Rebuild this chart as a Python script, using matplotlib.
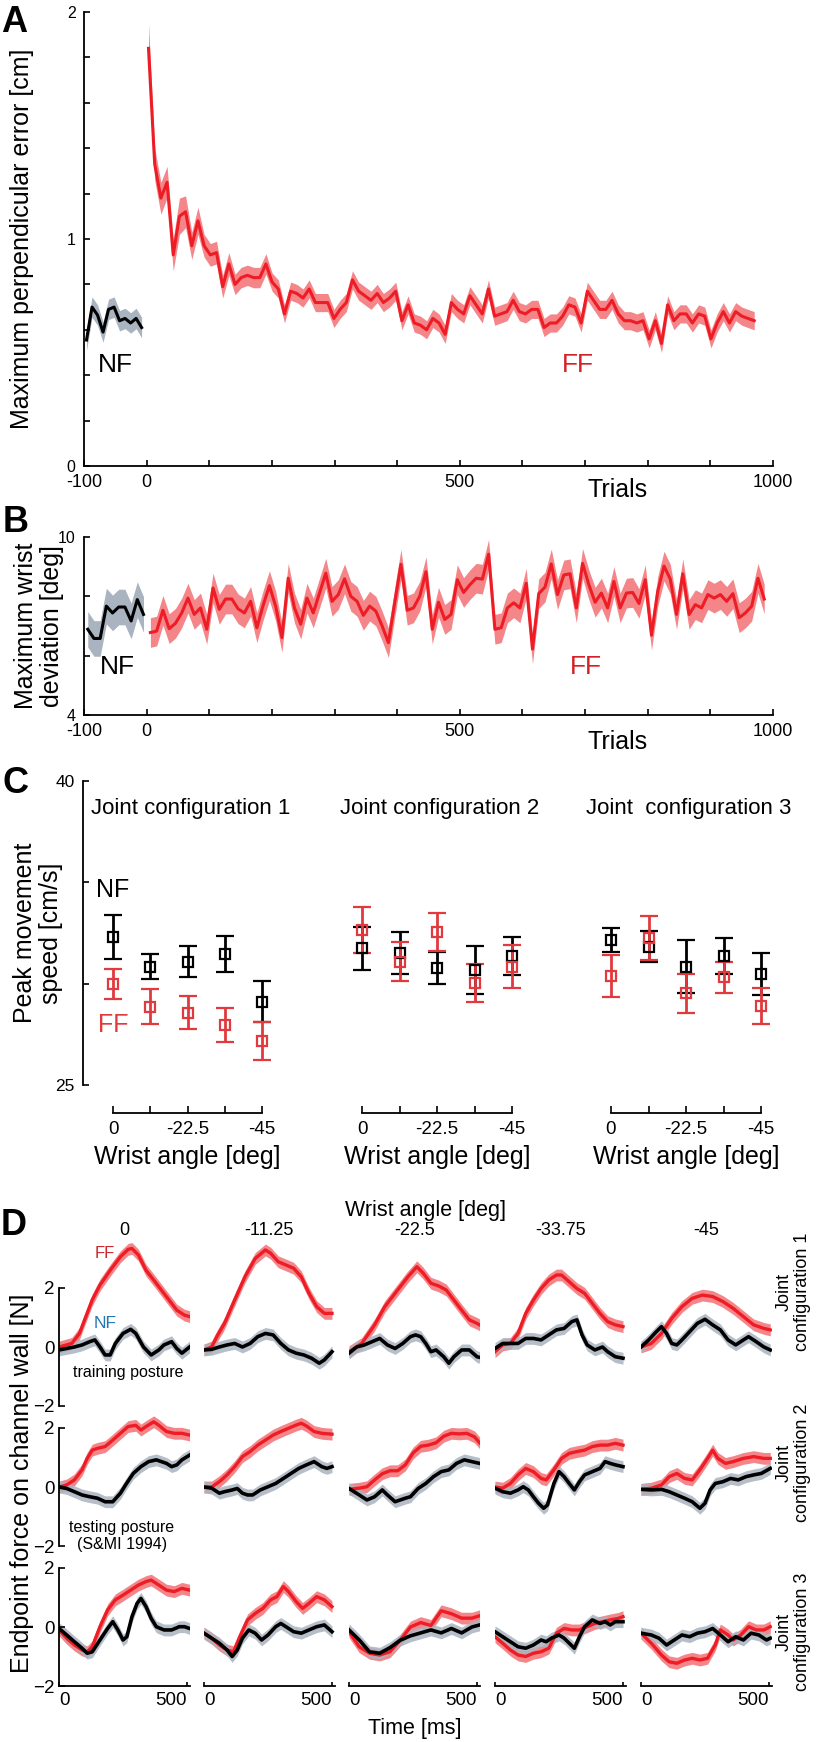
import numpy as np
import matplotlib
matplotlib.use('Agg')
import matplotlib.pyplot as plt

plt.rcParams['font.family'] = ['Liberation Sans', 'DejaVu Sans']

# ---------------- data ----------------
# A: maximum perpendicular error [cm], means of 10-trial bins
nf_perp = [0.555, 0.70, 0.665, 0.59, 0.69, 0.70, 0.64, 0.65, 0.63, 0.65, 0.61]
ff_perp = [1.84, 1.33, 1.18, 1.25, 0.93, 1.10, 1.12, 0.97, 1.08, 0.97, 0.93, 0.94, 0.79,
           0.89, 0.80, 0.83, 0.84, 0.83, 0.83, 0.89, 0.81, 0.78, 0.67, 0.77, 0.76, 0.74,
           0.78, 0.72, 0.72, 0.72, 0.65, 0.69, 0.72, 0.82, 0.77, 0.75, 0.73, 0.76, 0.72,
           0.74, 0.77,
           0.64, 0.71, 0.63, 0.62, 0.60, 0.65, 0.63, 0.58, 0.72, 0.69, 0.67, 0.75, 0.71,
           0.67, 0.78, 0.66, 0.67, 0.68, 0.73, 0.68, 0.67, 0.69, 0.69, 0.61, 0.63, 0.63,
           0.66, 0.71, 0.70, 0.63, 0.77, 0.73, 0.69, 0.69, 0.73, 0.67, 0.64, 0.64, 0.63,
           0.64, 0.56, 0.64, 0.54, 0.71, 0.64, 0.67, 0.67, 0.63, 0.67, 0.66, 0.56, 0.63,
           0.68, 0.63, 0.68, 0.66, 0.65, 0.64]
ff_perp_sem = [0.11, 0.07, 0.07, 0.07, 0.07, 0.08, 0.07, 0.06, 0.06, 0.05, 0.05, 0.05,
               0.05, 0.05, 0.045, 0.045, 0.045, 0.045, 0.045, 0.045] + [0.04] * 79
nf_perp_sem = 0.045

# B: maximum wrist deviation [deg]
nf_wrist = [6.89, 6.58, 6.58, 7.67, 7.44, 7.64, 7.64, 7.17, 7.89, 7.39]
ff_wrist = [6.78, 6.83, 7.53, 6.91, 7.09, 7.44, 7.94, 7.39, 7.61, 6.89, 8.28, 7.56, 7.91,
            7.91, 7.58, 7.44, 7.83, 6.94, 7.70, 8.36, 7.67, 6.61, 8.61, 7.61, 7.06, 7.94,
            7.44, 8.11, 8.78, 7.83, 8.06, 8.59, 8.00, 7.83, 7.36, 7.67, 7.50, 7.00, 6.44,
            7.78, 9.08, 7.53, 7.61, 8.00, 8.83, 6.89, 7.80, 7.22, 7.39, 8.56, 8.13, 8.39,
            8.61, 8.58, 9.42, 6.89, 6.94, 7.61, 7.78, 7.61, 8.44, 6.22, 8.09, 8.31, 9.09,
            8.06, 8.72, 8.76, 7.61, 9.11, 8.39, 7.80, 8.11, 7.61, 8.50, 7.61, 8.11, 8.13,
            7.76, 8.56, 6.69, 8.17, 9.02, 8.58, 7.39, 8.76, 7.39, 7.72, 7.61, 8.06, 7.94,
            8.06, 7.83, 8.09, 7.28, 7.44, 7.67, 8.61, 7.91]
nf_wrist_sem = 0.6
ff_wrist_sem = 0.5

# C: peak movement speed [cm/s], per joint configuration and wrist angle
wrist_angles = [0, -11.25, -22.5, -33.75, -45]
speed_nf = [[32.32, 30.84, 31.09, 31.46, 29.11],
            [31.74, 31.50, 30.76, 30.67, 31.36],
            [32.15, 31.83, 30.84, 31.36, 30.48]]
speed_nf_err = [[1.09, 0.60, 0.78, 0.90, 1.00],
                [1.07, 1.04, 0.78, 1.18, 0.95],
                [0.60, 0.76, 1.30, 0.90, 1.04]]
speed_ff = [[29.97, 28.87, 28.57, 27.96, 27.17],
            [32.65, 31.09, 32.53, 30.02, 30.84],
            [30.38, 32.24, 29.52, 30.31, 28.90]]
speed_ff_err = [[0.75, 0.88, 0.82, 0.82, 0.92],
                [1.13, 0.95, 0.94, 0.94, 1.07],
                [1.05, 1.09, 0.95, 0.78, 0.88]]
config_titles = ['Joint configuration 1', 'Joint configuration 2', 'Joint  configuration 3']

# D: endpoint force on channel wall [N], (time ms, force) per wrist angle
col_titles = ['0', '-11.25', '-22.5', '-33.75', '-45']
ff_cfg1 = [
    [(0, 0), (50, 0.12), (80, 0.46), (100, 0.92), (130, 1.6), (160, 2.1), (200, 2.6), (240, 3.06),
     (270, 3.31), (285, 3.34), (310, 3.12), (340, 2.6), (370, 2.27), (400, 1.93), (430, 1.59),
     (460, 1.25), (490, 1.08), (510, 1.03)],
    [(0, -0.1), (30, 0), (50, 0.35), (80, 0.8), (120, 1.6), (160, 2.38), (200, 3.0), (240, 3.29),
     (260, 3.18), (290, 2.89), (320, 2.78), (350, 2.67), (380, 2.38), (410, 1.82), (440, 1.37),
     (470, 1.14), (500, 1.14)],
    [(0, -0.16), (50, 0.12), (100, 0.75), (140, 1.37), (180, 1.82), (230, 2.38), (265, 2.72),
     (290, 2.5), (320, 2.16), (350, 2.07), (380, 1.93), (410, 1.59), (440, 1.25), (470, 0.92),
     (500, 0.8), (510, 0.75)],
    [(0, -0.16), (30, 0.07), (60, 0.12), (90, 0.46), (120, 1.14), (150, 1.59), (180, 1.98),
     (210, 2.27), (240, 2.44), (260, 2.44), (290, 2.21), (320, 1.98), (350, 1.82), (380, 1.48),
     (410, 1.14), (440, 0.86), (470, 0.75), (500, 0.69)],
    [(0, 0), (40, 0.12), (80, 0.46), (120, 0.97), (160, 1.37), (200, 1.65), (240, 1.76),
     (280, 1.71), (320, 1.54), (360, 1.31), (400, 1.03), (440, 0.75), (480, 0.63), (505, 0.58)]]
nf_cfg1 = [
    [(0, -0.1), (30, -0.05), (60, 0), (90, 0.07), (120, 0.18), (140, 0.24), (160, 0), (180, -0.27),
     (200, -0.27), (220, 0.12), (250, 0.46), (280, 0.6), (300, 0.46), (330, 0), (360, -0.27),
     (390, -0.1), (410, 0.07), (440, 0.18), (460, -0.05), (480, -0.21), (510, 0)],
    [(0, -0.1), (30, -0.08), (60, 0), (90, 0.07), (120, 0.12), (150, 0), (180, 0.12), (210, 0.35),
     (240, 0.46), (270, 0.41), (300, 0.12), (330, -0.1), (360, -0.21), (390, -0.27), (420, -0.38),
     (450, -0.55), (470, -0.44), (500, -0.16)],
    [(0, -0.21), (30, 0), (60, 0.07), (90, 0.18), (120, 0.29), (150, 0.07), (180, -0.05),
     (210, 0.12), (240, 0.35), (260, 0.41), (280, 0.35), (300, 0.12), (320, -0.16), (340, -0.1),
     (370, -0.33), (390, -0.55), (410, -0.33), (440, -0.1), (470, -0.1), (500, -0.33), (510, -0.35)],
    [(0, -0.05), (30, 0.12), (60, 0.12), (90, 0.12), (120, 0.29), (150, 0.29), (180, 0.24),
     (210, 0.41), (240, 0.58), (270, 0.63), (300, 0.86), (320, 0.92), (340, 0.41), (360, 0.07),
     (390, -0.1), (420, 0), (440, -0.16), (470, -0.33), (500, -0.38)],
    [(0, 0), (30, 0.24), (60, 0.52), (80, 0.69), (100, 0.46), (120, 0.12), (140, 0.07), (160, 0.24),
     (190, 0.52), (220, 0.8), (250, 0.94), (280, 0.75), (310, 0.58), (340, 0.24), (370, 0.07),
     (400, 0.24), (420, 0.35), (450, 0.18), (480, 0), (505, -0.1)]]
ff_cfg2 = [
    [(0, 0), (30, 0.07), (60, 0.24), (90, 0.58), (110, 0.97), (130, 1.25), (150, 1.31), (180, 1.37),
     (210, 1.59), (240, 1.82), (270, 2.05), (300, 2.09), (320, 1.93), (340, 2.05), (370, 2.21),
     (390, 2.09), (420, 1.88), (450, 1.82), (480, 1.82), (510, 1.76)],
    [(0, 0), (30, 0), (60, 0.18), (90, 0.41), (120, 0.69), (150, 1.03), (180, 1.2), (210, 1.42),
     (240, 1.59), (270, 1.76), (300, 1.88), (330, 1.99), (360, 2.1), (380, 2.16), (400, 2.07),
     (430, 1.88), (460, 1.82), (500, 1.79)],
    [(0, -0.08), (40, -0.04), (70, 0.01), (100, 0.24), (130, 0.45), (160, 0.55), (190, 0.55),
     (220, 0.75), (250, 1.15), (280, 1.38), (310, 1.42), (340, 1.5), (370, 1.72), (400, 1.82),
     (430, 1.8), (460, 1.82), (490, 1.7), (510, 1.5)],
    [(0, 0), (30, -0.04), (60, 0.12), (90, 0.41), (120, 0.63), (150, 0.52), (180, 0.29), (200, 0.24),
     (230, 0.58), (260, 0.97), (290, 1.14), (320, 1.2), (350, 1.25), (380, 1.37), (410, 1.42),
     (440, 1.42), (470, 1.48), (500, 1.42)],
    [(0, -0.08), (40, -0.04), (80, 0.07), (110, 0.35), (140, 0.46), (170, 0.29), (200, 0.24),
     (230, 0.58), (260, 0.97), (280, 1.25), (300, 0.97), (330, 0.8), (360, 0.86), (400, 0.97),
     (440, 1.03), (480, 0.97), (505, 0.97)]]
nf_cfg2 = [
    [(0, 0), (30, -0.05), (60, -0.16), (90, -0.27), (120, -0.33), (150, -0.38), (180, -0.5),
     (210, -0.5), (240, -0.21), (260, 0.07), (290, 0.46), (320, 0.69), (350, 0.86), (380, 0.92),
     (400, 0.86), (420, 0.8), (440, 0.69), (460, 0.75), (480, 0.92), (510, 1.08)],
    [(0, 0), (30, -0.04), (60, -0.21), (80, -0.16), (110, -0.1), (130, -0.05), (150, -0.21),
     (170, -0.27), (190, -0.27), (220, -0.1), (250, 0.01), (280, 0.12), (310, 0.29), (340, 0.46),
     (370, 0.63), (400, 0.75), (430, 0.86), (460, 0.69), (480, 0.63), (500, 0.69)],
    [(0, -0.05), (40, -0.27), (70, -0.44), (100, -0.33), (130, -0.1), (150, -0.27), (180, -0.5),
     (200, -0.44), (220, -0.38), (240, -0.33), (270, -0.05), (300, 0.12), (330, 0.35), (360, 0.52),
     (390, 0.58), (420, 0.8), (450, 0.92), (480, 0.86), (510, 0.8)],
    [(0, -0.04), (30, -0.16), (60, -0.21), (90, -0.1), (110, 0.01), (130, -0.1), (150, -0.33),
     (170, -0.55), (190, -0.72), (205, -0.61), (230, 0.12), (250, 0.52), (270, 0.35), (290, 0.12),
     (310, -0.1), (330, 0.18), (350, 0.41), (380, 0.52), (410, 0.63), (430, 0.86), (450, 0.8),
     (470, 0.75), (500, 0.69)],
    [(0, -0.08), (40, -0.1), (80, -0.08), (110, -0.16), (140, -0.27), (170, -0.38), (200, -0.5),
     (230, -0.72), (250, -0.55), (270, -0.1), (290, 0.12), (320, 0.18), (350, 0.29), (380, 0.24),
     (410, 0.35), (440, 0.41), (470, 0.46), (505, 0.63)]]
ff_cfg3 = [
    [(0, -0.1), (30, -0.38), (60, -0.61), (90, -0.78), (110, -0.84), (130, -0.67), (160, 0.01),
     (190, 0.58), (220, 0.92), (250, 1.08), (280, 1.25), (310, 1.42), (340, 1.54), (360, 1.59),
     (390, 1.42), (420, 1.25), (450, 1.2), (480, 1.31), (510, 1.25)],
    [(0, -0.21), (30, -0.38), (60, -0.61), (90, -0.78), (115, -0.84), (140, -0.33), (170, 0.24),
     (200, 0.46), (230, 0.63), (260, 0.92), (285, 1.03), (310, 1.37), (330, 1.2), (360, 0.86),
     (385, 0.63), (410, 0.8), (440, 1.03), (470, 0.92), (500, 0.69)],
    [(0, -0.16), (40, -0.67), (80, -0.89), (120, -0.95), (160, -0.84), (200, -0.45), (240, 0.0),
     (280, 0.15), (320, 0.05), (360, 0.55), (400, 0.45), (440, 0.3), (480, 0.3), (510, 0.38)],
    [(0, -0.33), (30, -0.55), (60, -0.78), (90, -0.95), (120, -1.0), (150, -0.89), (180, -0.84),
     (210, -0.72), (240, -0.21), (270, -0.05), (300, -0.1), (330, -0.1), (360, 0.01), (390, 0.12),
     (420, 0.18), (450, 0.24), (480, 0.29), (500, 0.35)],
    [(0, -0.21), (40, -0.55), (80, -0.95), (110, -1.18), (140, -1.23), (170, -1.12), (200, -1.06),
     (230, -1.12), (260, -1.06), (290, -0.61), (310, -0.1), (340, -0.27), (360, -0.44), (390, -0.27),
     (420, 0.01), (450, -0.1), (480, -0.1), (505, 0.01)]]
nf_cfg3 = [
    [(0, -0.05), (30, -0.27), (60, -0.5), (90, -0.72), (110, -0.89), (130, -0.84), (160, -0.44),
     (190, -0.05), (210, 0.18), (230, -0.1), (250, -0.44), (265, -0.33), (285, 0.35), (305, 0.8),
     (320, 0.97), (340, 0.69), (360, 0.29), (380, 0.01), (410, -0.1), (440, -0.1), (470, 0.01),
     (490, 0.01), (510, -0.05)],
    [(0, -0.21), (30, -0.38), (60, -0.55), (90, -0.78), (110, -1.0), (130, -0.78), (150, -0.38),
     (175, -0.1), (200, -0.21), (225, -0.44), (250, -0.27), (280, 0.01), (300, 0.12), (320, 0.01),
     (350, -0.16), (380, -0.21), (410, -0.1), (440, 0.01), (470, 0.07), (500, -0.16)],
    [(0, -0.1), (40, -0.44), (80, -0.84), (120, -0.89), (160, -0.7), (200, -0.45), (240, -0.3),
     (280, -0.2), (320, -0.1), (360, -0.2), (400, -0.05), (440, -0.2), (480, 0.0), (510, 0.07)],
    [(0, -0.16), (30, -0.33), (60, -0.5), (90, -0.67), (120, -0.72), (150, -0.61), (180, -0.44),
     (200, -0.5), (220, -0.38), (250, -0.27), (270, -0.38), (290, -0.55), (310, -0.72), (330, -0.33),
     (350, 0.01), (380, 0.24), (410, 0.12), (430, 0.18), (450, 0.07), (470, 0.18), (500, 0.18)],
    [(0, -0.21), (40, -0.27), (70, -0.38), (100, -0.61), (130, -0.44), (160, -0.27), (190, -0.33),
     (220, -0.21), (250, -0.16), (280, -0.05), (310, -0.27), (340, -0.5), (370, -0.33), (400, -0.44),
     (430, -0.21), (460, -0.27), (490, -0.44), (505, -0.38)]]
force_band = 0.2

# ---------------- style ----------------
W, H = 819, 1742
RED = '#ee1c24'
RED_BAND = '#f4868a'
RED_C = '#e0393e'
GREY_BAND = '#a9b4c0'
LABEL = 18

fig = plt.figure(figsize=(W / 100, H / 100), dpi=100, facecolor='white')


def box(x0, y0, x1, y1):
    # pixel rectangle (top-left origin) -> figure fraction
    return [x0 / W, 1 - y1 / H, (x1 - x0) / W, (y1 - y0) / H]


def label(x, y, s, **kw):
    kw.setdefault('ha', 'center')
    kw.setdefault('va', 'center')
    fig.text(x / W, 1 - y / H, s, **kw)


def clean(ax):
    ax.set_facecolor('none')
    for s in ['top', 'right']:
        ax.spines[s].set_visible(False)
    for s in ['left', 'bottom']:
        ax.spines[s].set_linewidth(1.3)
    ax.tick_params(direction='in', length=4.5, width=1.2, labelsize=13, pad=6)


def band_line(ax, x, y, sem, line_c, band_c, lw=2.2):
    y = np.asarray(y)
    ax.fill_between(x, y - sem, y + sem, color=band_c, lw=0)
    ax.plot(x, y, color=line_c, lw=lw)


trial_ticks = np.arange(-100, 1001, 100)
trial_labels = ['-100', '0', '', '', '', '', '500', '', '', '', '', '1000']

# ---------------- A ----------------
axA = fig.add_axes(box(84, 12, 773, 466))
clean(axA)
band_line(axA, np.linspace(-96, -8, len(nf_perp)), nf_perp, nf_perp_sem, 'black', GREY_BAND)
band_line(axA, np.linspace(3, 970, len(ff_perp)), ff_perp, np.array(ff_perp_sem), RED, RED_BAND)
axA.set_xlim(-100, 1000)
axA.set_ylim(0, 2)
axA.set_xticks(trial_ticks)
axA.set_xticklabels(trial_labels)
axA.set_yticks(np.arange(0, 2.01, 0.2))
axA.set_yticklabels(['0', '', '', '', '', '1', '', '', '', '', '2'], fontsize=11.5)
label(22, 239, 'Maximum perpendicular error [cm]', rotation=90, fontsize=LABEL)
label(618, 490, 'Trials', fontsize=LABEL)
label(115, 365, 'NF', fontsize=19)
label(578, 365, 'FF', fontsize=19, color='#d42027')

# ---------------- B ----------------
axB = fig.add_axes(box(84, 537, 773, 715))
clean(axB)
band_line(axB, np.linspace(-94, -5, len(nf_wrist)), nf_wrist, nf_wrist_sem, 'black', GREY_BAND)
band_line(axB, np.linspace(6, 986, len(ff_wrist)), ff_wrist, ff_wrist_sem, RED, RED_BAND)
axB.set_xlim(-100, 1000)
axB.set_ylim(4, 10)
axB.set_xticks(trial_ticks)
axB.set_xticklabels(trial_labels)
axB.set_yticks([4, 6, 8, 10])
axB.set_yticklabels(['4', '', '', '10'], fontsize=11.5)
label(39, 626, 'Maximum wrist\ndeviation [deg]', rotation=90, fontsize=LABEL, linespacing=1.15)
label(618, 742, 'Trials', fontsize=LABEL)
label(117, 667, 'NF', fontsize=19)
label(586, 667, 'FF', fontsize=19, color='#d42027')

# ---------------- C ----------------
group_x = [(113, 262), (362, 512), (611, 761)]
for g, (x0, x1) in enumerate(group_x):
    ax = fig.add_axes(box(x0, 781, x1, 1085))
    clean(ax)
    ax.errorbar(wrist_angles, speed_nf[g], yerr=speed_nf_err[g], fmt='s', color='black',
                mfc='none', ms=6.5, mew=1.6, elinewidth=2, capsize=6.5, capthick=2, clip_on=False)
    ax.errorbar(wrist_angles, speed_ff[g], yerr=speed_ff_err[g], fmt='s', color=RED_C,
                mfc='none', ms=6.5, mew=1.6, elinewidth=2, capsize=6.5, capthick=2, clip_on=False)
    ax.set_xlim(0, -45)
    ax.set_ylim(25, 40)
    ax.spines['bottom'].set_position(('outward', 20))
    ax.set_xticks(wrist_angles)
    ax.set_xticklabels(['0', '', '-22.5', '', '-45'], fontsize=13.5)
    ax.tick_params(axis='x', length=5)
    if g == 0:
        ax.spines['left'].set_position(('outward', 21.6))
        ax.set_yticks([25, 30, 35, 40])
        ax.set_yticklabels(['25', '', '', '40'], fontsize=12.5)
    else:
        ax.spines['left'].set_visible(False)
        ax.set_yticks([])
    label((x0 + x1) / 2, 1157, 'Wrist angle [deg]', fontsize=LABEL)
    label((x0 + x1) / 2 + 3, 808, config_titles[g], fontsize=16)
label(38, 933, 'Peak movement\nspeed [cm/s]', rotation=90, fontsize=LABEL, linespacing=1.15)
label(113, 890, 'NF', fontsize=18)
label(113, 1025, 'FF', fontsize=18, color=RED_C)

# ---------------- D ----------------
col_x0 = [59, 204, 349, 495, 641]
row_zero = [1347, 1487, 1627]
px_per_n = 29.5
px_per_ms = 0.256
rows = [(ff_cfg1, nf_cfg1), (ff_cfg2, nf_cfg2), (ff_cfg3, nf_cfg3)]
for r, (ff_rows, nf_rows) in enumerate(rows):
    y0 = row_zero[r]
    for c in range(5):
        x0 = col_x0[c]
        ax = fig.add_axes(box(x0, y0 - 3.6 * px_per_n, x0 + 510 * px_per_ms, y0 + 2 * px_per_n))
        clean(ax)
        tf, vf = np.array(ff_rows[c]).T
        tn, vn = np.array(nf_rows[c]).T
        ax.fill_between(tf, vf - force_band, vf + force_band, color=RED_BAND, lw=0)
        ax.fill_between(tn, vn - force_band, vn + force_band, color=GREY_BAND, lw=0, alpha=0.85)
        ax.plot(tf, vf, color=RED, lw=2.4)
        ax.plot(tn, vn, color='black', lw=2.6)
        ax.set_xlim(0, 510)
        ax.set_ylim(-2, 3.6)
        if c == 0:
            ax.spines['left'].set_bounds(-2, 2)
            ax.set_yticks([-2, 0, 2])
            ax.set_yticklabels(['\u22122', '0', '2'], fontsize=13.5)
            ax.tick_params(axis='y', pad=3)
        else:
            ax.spines['left'].set_visible(False)
            ax.set_yticks([])
        if r == 2:
            ax.set_xticks([0, 500])
            ax.set_xticklabels(['0', '500'], fontsize=13.5)
            ax.get_xticklabels()[0].set_ha('left')
            ax.get_xticklabels()[1].set_ha('right')
            ax.tick_params(axis='x', length=3, pad=4)
        else:
            ax.spines['bottom'].set_visible(False)
            ax.set_xticks([])
        if r == 0:
            label(x0 + 255 * px_per_ms, 1230, col_titles[c], fontsize=13)

label(425, 1210, 'Wrist angle [deg]', fontsize=15.5)
label(415, 1728, 'Time [ms]', fontsize=15.5)
label(22, 1483, 'Endpoint force on channel wall [N]', rotation=90, fontsize=LABEL)
for r, yc in enumerate([1292, 1463, 1632]):
    label(793, yc, 'Joint\nconfiguration %d' % (r + 1), rotation=90, fontsize=13,
          multialignment='center', linespacing=1.1)
label(105, 1253, 'FF', fontsize=12, color='#c8262c')
label(105, 1323, 'NF', fontsize=12.5, color='#2475b0')
label(128, 1373, 'training posture', fontsize=11.5)
label(122, 1536, 'testing posture\n(S&MI 1994)', fontsize=11.5, linespacing=1.1)

# panel letters
for letter, (x, y) in zip('ABCD', [(14, 23), (16, 523), (15, 783), (14, 1225)]):
    label(x, y, letter, fontsize=26, fontweight='bold')

fig.savefig('out.png', dpi=100, facecolor='white')
